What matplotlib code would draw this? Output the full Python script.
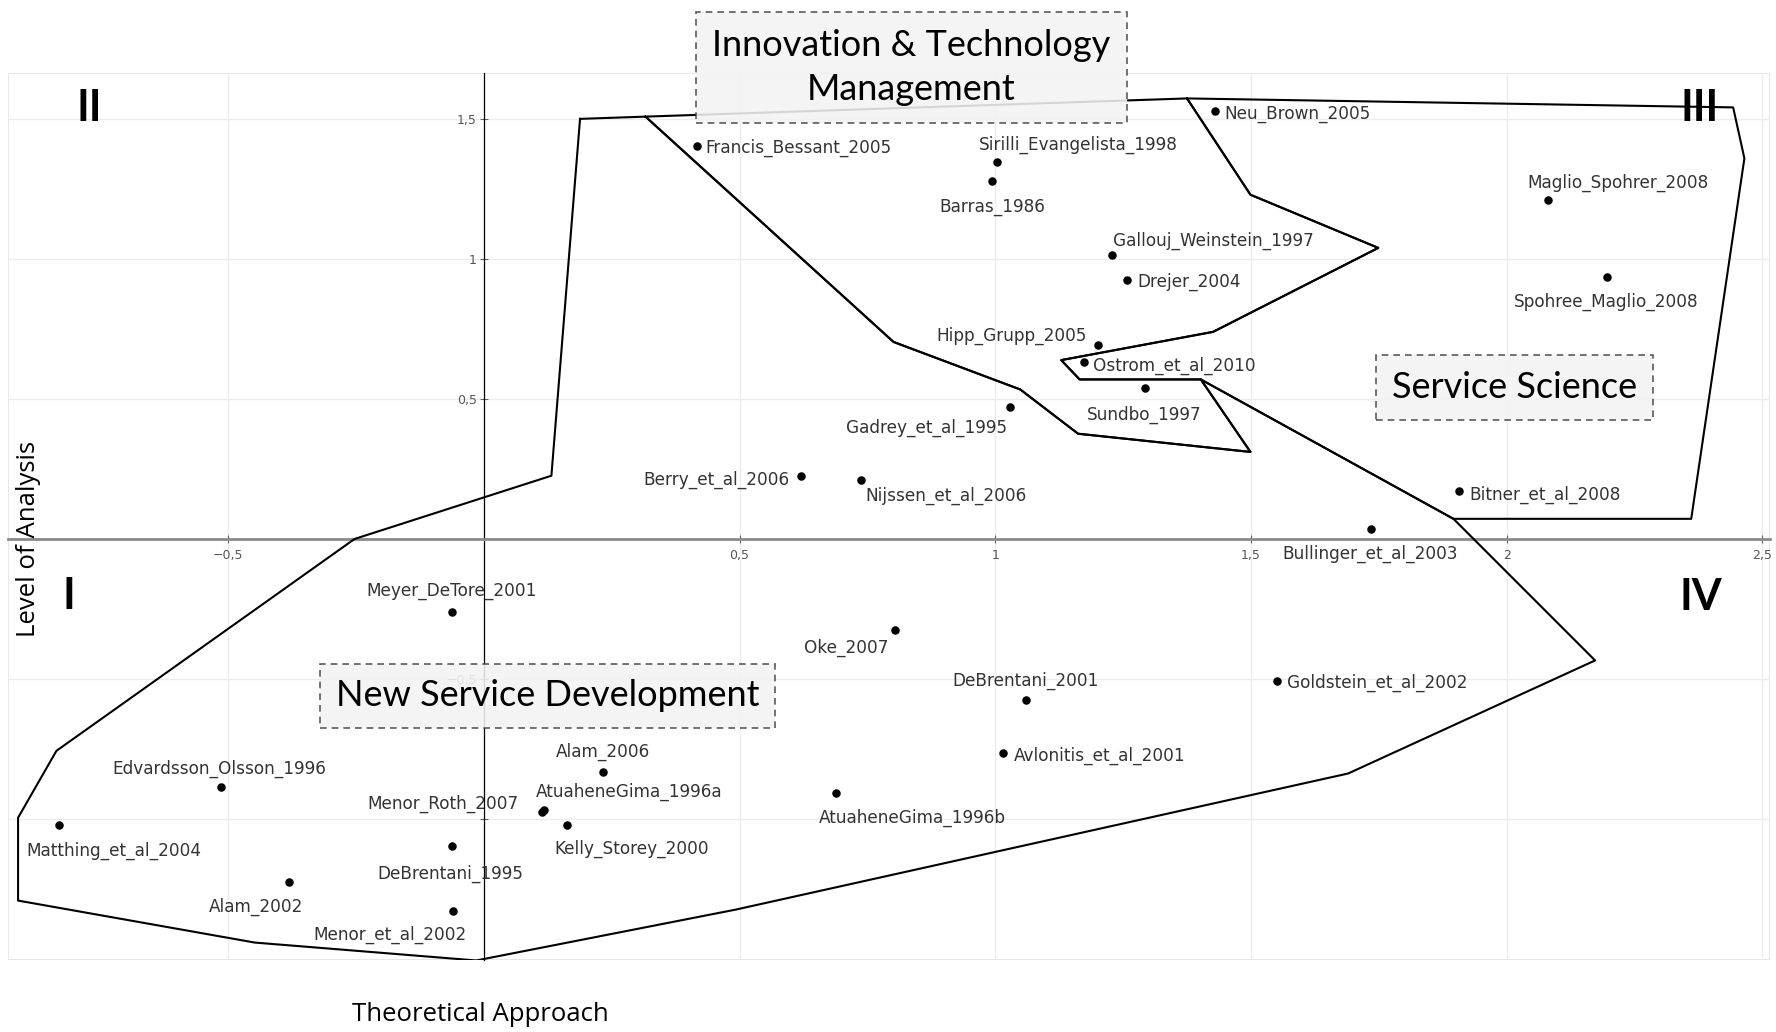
import matplotlib
matplotlib.use('Agg')
import matplotlib.pyplot as plt
from matplotlib.patches import Rectangle

# studies positioned by theoretical approach (x) and level of analysis (y)
names = [
    'Francis_Bessant_2005', 'Sirilli_Evangelista_1998', 'Barras_1986', 'Neu_Brown_2005',
    'Gallouj_Weinstein_1997', 'Drejer_2004', 'Hipp_Grupp_2005', 'Ostrom_et_al_2010',
    'Sundbo_1997', 'Gadrey_et_al_1995', 'Berry_et_al_2006', 'Nijssen_et_al_2006',
    'Maglio_Spohrer_2008', 'Spohree_Maglio_2008', 'Bitner_et_al_2008', 'Bullinger_et_al_2003',
    'Meyer_DeTore_2001', 'Oke_2007', 'Goldstein_et_al_2002', 'DeBrentani_2001',
    'Avlonitis_et_al_2001', 'Alam_2006', 'AtuaheneGima_1996a', 'Menor_Roth_2007',
    'Kelly_Storey_2000', 'AtuaheneGima_1996b', 'Edvardsson_Olsson_1996', 'Matthing_et_al_2004',
    'DeBrentani_1995', 'Alam_2002', 'Menor_et_al_2002',
]
x_vals = [0.416, 1.003, 0.994, 1.430, 1.229, 1.258, 1.200, 1.173, 1.293, 1.029, 0.620, 0.737,
          2.080, 2.197, 1.907, 1.734, -0.063, 0.804, 1.550, 1.061, 1.016, 0.232, 0.117, 0.113,
          0.163, 0.688, -0.515, -0.831, -0.063, -0.382, -0.060]
y_vals = [1.404, 1.348, 1.279, 1.530, 1.016, 0.927, 0.692, 0.631, 0.538, 0.473, 0.226, 0.210,
          1.210, 0.935, 0.170, 0.036, -0.260, -0.324, -0.506, -0.575, -0.766, -0.834, -0.968,
          -0.976, -1.021, -0.907, -0.887, -1.021, -1.098, -1.227, -1.328]

# label placement relative to the dot (reference pixels), and alignment
label_dx = [8, -16, 0, 8, 1, 9, -9, 8, -1, -3, -10, 4, -18, -1, 9, 0, 0, -6, 9, -1, 9, 0, -7, -20,
            -11, -15, -1, -29, -1, 13, 12]
label_dy = [2, -15, 23, 3, -12, 2, -8, 3, 23, 19, 4, 14, -15, 22, 3, 22, -18, 16, 2, -17, 2, -18,
            -16, -7, 21, 22, -16, 23, 24, 22, 21]
label_ha = ['left', 'left', 'center', 'left', 'left', 'left', 'right', 'left', 'center', 'right',
            'right', 'left', 'left', 'center', 'left', 'center', 'center', 'right', 'left',
            'center', 'left', 'center', 'left', 'right', 'left', 'left', 'center', 'left',
            'center', 'right', 'right']

# hand-drawn region outlines
itm_x = [0.316, 1.375, 1.499, 1.749, 1.426, 1.129, 1.165, 1.402, 1.499, 1.162, 1.049, 0.801]
itm_y = [1.509, 1.574, 1.230, 1.040, 0.740, 0.639, 0.570, 0.570, 0.311, 0.376, 0.534, 0.704]
ss_x = [1.375, 2.443, 2.465, 2.361, 1.896, 1.402, 1.165, 1.129, 1.426, 1.749, 1.499]
ss_y = [1.574, 1.542, 1.360, 0.072, 0.072, 0.570, 0.570, 0.639, 0.740, 1.040, 1.230]
nsd_x = [0.188, 0.316, 0.801, 1.049, 1.162, 1.499, 1.402, 1.896, 2.173, 1.690, 0.493, -0.015,
         -0.448, -0.911, -0.911, -0.836, -0.253, 0.132]
nsd_y = [1.501, 1.509, 0.704, 0.534, 0.376, 0.311, 0.570, 0.072, -0.434, -0.838, -1.324, -1.506,
         -1.442, -1.292, -0.996, -0.757, 0.0, 0.226]

x_ticks = [-0.5, 0.5, 1, 1.5, 2, 2.5]
x_tick_labels = ['\u22120,5', '0,5', '1', '1,5', '2', '2,5']
y_ticks = [-1, -0.5, 0.5, 1, 1.5]
y_tick_labels = ['', '\u22120,5', '0,5', '1', '1,5']

PX = 1.1327 * 0.72  # reference pixel -> points

fig = plt.figure(figsize=(17.76, 10.32), dpi=100)
ax = fig.add_axes([0.0047, 0.0693, 0.9919, 0.86])
ax.set_xlim(-0.93, 2.515)
ax.set_ylim(-1.506, 1.665)

# axes through the origin
for side in ['top', 'right']:
    ax.spines[side].set_visible(False)
ax.spines['left'].set_position(('data', 0))
ax.spines['bottom'].set_position(('data', 0))
ax.spines['left'].set_color('black')
ax.spines['left'].set_linewidth(0.9)
ax.spines['bottom'].set_color('#8a8a8a')
ax.spines['bottom'].set_linewidth(2.0)
ax.add_patch(Rectangle((0, 0), 1, 1, transform=ax.transAxes, fill=False,
                       ec='#e3e3e3', lw=1.2, zorder=0))

ax.set_xticks(x_ticks)
ax.set_xticklabels(x_tick_labels)
ax.set_yticks(y_ticks)
ax.set_yticklabels(y_tick_labels)
ax.tick_params(axis='both', direction='inout', length=6, width=0.8, color='#666666',
               labelsize=9, labelcolor='#555555', pad=4)
ax.tick_params(axis='y', pad=2)
ax.grid(True, color='#ececec', lw=1.0, zorder=0)
ax.set_axisbelow(True)

# region outlines
for px, py in [(itm_x, itm_y), (ss_x, ss_y), (nsd_x, nsd_y)]:
    ax.plot(px + px[:1], py + py[:1], color='black', lw=1.5, zorder=3)

# study points and labels
ax.scatter(x_vals, y_vals, s=26, color='black', zorder=4)
for name, x, y, dx, dy, ha in zip(names, x_vals, y_vals, label_dx, label_dy, label_ha):
    ax.annotate(name, (x, y), xytext=(dx * PX, -dy * PX), textcoords='offset points',
                ha=ha, va='center', fontsize=12.2, color='#333333', zorder=5)

# quadrant numerals
quad = dict(fontsize=31, fontweight='bold', family='Lato', ha='center', va='center',
            transform=ax.transAxes, color='black')
ax.text(0.046, 0.961, 'II', **quad)
ax.text(0.960, 0.961, 'III', **quad)
ax.text(0.0345, 0.411, 'I', **quad)
ax.text(0.961, 0.409, 'IV', **quad)

# stream boxes
def box(pad):
    return dict(boxstyle='square,pad=%.2f' % pad, fc='#f3f3f3', ec='#444444',
                ls=(0, (4, 3)), lw=1.2, alpha=0.88)

ax.text(0.836, 1.685, 'Innovation & Technology\nManagement', family='Lato', fontsize=26,
        ha='center', va='center', linespacing=1.42, bbox=box(0.46), zorder=6, clip_on=False)
ax.text(2.016, 0.540, 'Service Science', family='Lato', fontsize=26,
        ha='center', va='center', bbox=box(0.44), zorder=6)
ax.text(0.125, -0.561, 'New Service Development', family='Lato', fontsize=26,
        ha='center', va='center', bbox=box(0.44), zorder=6)

# axis titles
fig.text(0.0159, 0.4777, 'Level of Analysis', rotation=90, family='Open Sans',
         fontsize=18.5, ha='center', va='center')
fig.text(0.2705, 0.0165, 'Theoretical Approach', family='Open Sans',
         fontsize=18.5, ha='center', va='center')

fig.savefig('out.png', dpi=100)
